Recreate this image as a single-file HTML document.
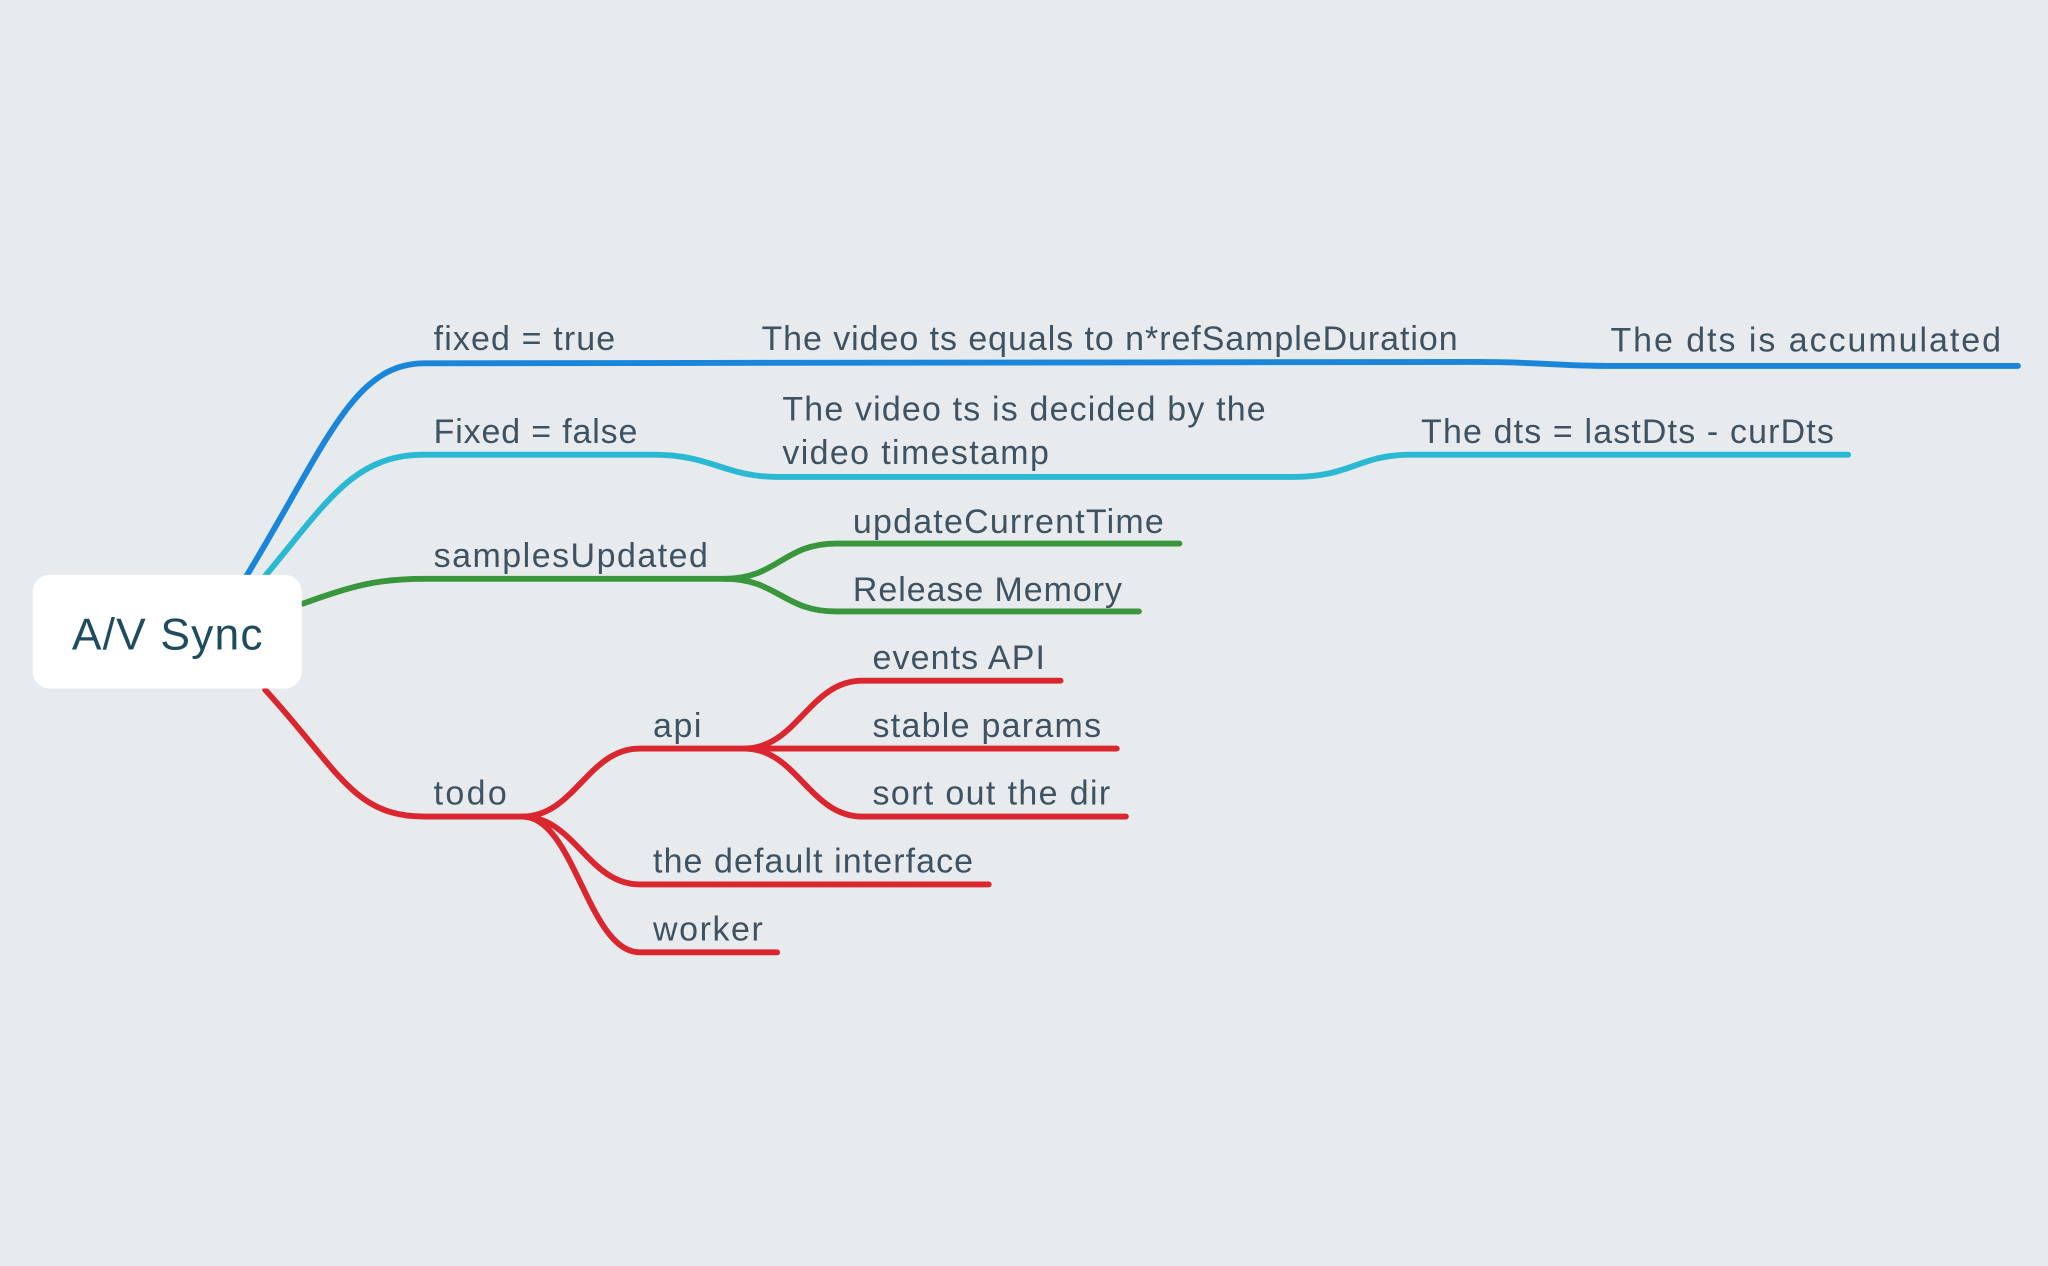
<!DOCTYPE html>
<html><head><meta charset="utf-8"><style>
html,body{margin:0;padding:0;background:#e8ebee;}
svg{display:block}
text{font-family:"Liberation Sans",sans-serif;fill:#3e5261;font-size:26px;}
</style></head><body>
<svg width="2048" height="1266" viewBox="0 0 1568 969" xmlns="http://www.w3.org/2000/svg">
<rect width="1568" height="969" fill="#e8ebee"/>
<g fill="none" stroke-width="4.5" stroke-linecap="round">
<path d="M188,442 C250,340 270,278 325,278 L1130,277 C1180,277 1190,280 1230,280 L1545,280" stroke="#1985db"/>
<path d="M202,442 C250,385 270,348 325,348 L500,348 C545,348 555,365 595,365 L990,365 C1035,365 1040,348 1080,348 L1415,348" stroke="#2ab8d2"/>
<path d="M232,462 C270,448 290,443 325,443 L555,443" stroke="#3a963d"/>
<path d="M555,443 C595,443 600,416 640,416 L903,416" stroke="#3a963d"/>
<path d="M555,443 C595,443 600,468 640,468 L872,468" stroke="#3a963d"/>
<path d="M203,528 C260,590 270,625 325,625 L400,625" stroke="#da262e"/>
<path d="M400,625 C440,625 450,573 490,573 L570,573" stroke="#da262e"/>
<path d="M570,573 C610,573 620,521 660,521 L812,521" stroke="#da262e"/>
<path d="M570,573 L855,573" stroke="#da262e"/>
<path d="M570,573 C610,573 620,625 660,625 L862,625" stroke="#da262e"/>
<path d="M400,625 C440,625 450,677 490,677 L757,677" stroke="#da262e"/>
<path d="M400,625 C440,625 450,729 490,729 L595,729" stroke="#da262e"/>
</g>
<rect x="25" y="440" width="206" height="87" rx="13" fill="#fff"/>
<text x="55" y="497" textLength="146" style="font-size:34px;fill:#1f4b5f">A/V Sync</text>
<text x="332" y="268" textLength="139">fixed = true</text>
<text x="583" y="268" textLength="533">The video ts equals to n*refSampleDuration</text>
<text x="1233" y="269" textLength="299">The dts is accumulated</text>
<text x="332" y="339" textLength="156">Fixed = false</text>
<text x="599" y="322" textLength="370">The video ts is decided by the</text>
<text x="599" y="355" textLength="204">video timestamp</text>
<text x="1088" y="339" textLength="316">The dts = lastDts - curDts</text>
<text x="332" y="434" textLength="210">samplesUpdated</text>
<text x="653" y="408" textLength="238">updateCurrentTime</text>
<text x="653" y="460" textLength="206">Release Memory</text>
<text x="332" y="616" textLength="56">todo</text>
<text x="500" y="564" textLength="37">api</text>
<text x="668" y="512" textLength="132">events API</text>
<text x="668" y="564" textLength="175">stable params</text>
<text x="668" y="616" textLength="182">sort out the dir</text>
<text x="500" y="668" textLength="245">the default interface</text>
<text x="500" y="720" textLength="84">worker</text>
</svg>
</body></html>
